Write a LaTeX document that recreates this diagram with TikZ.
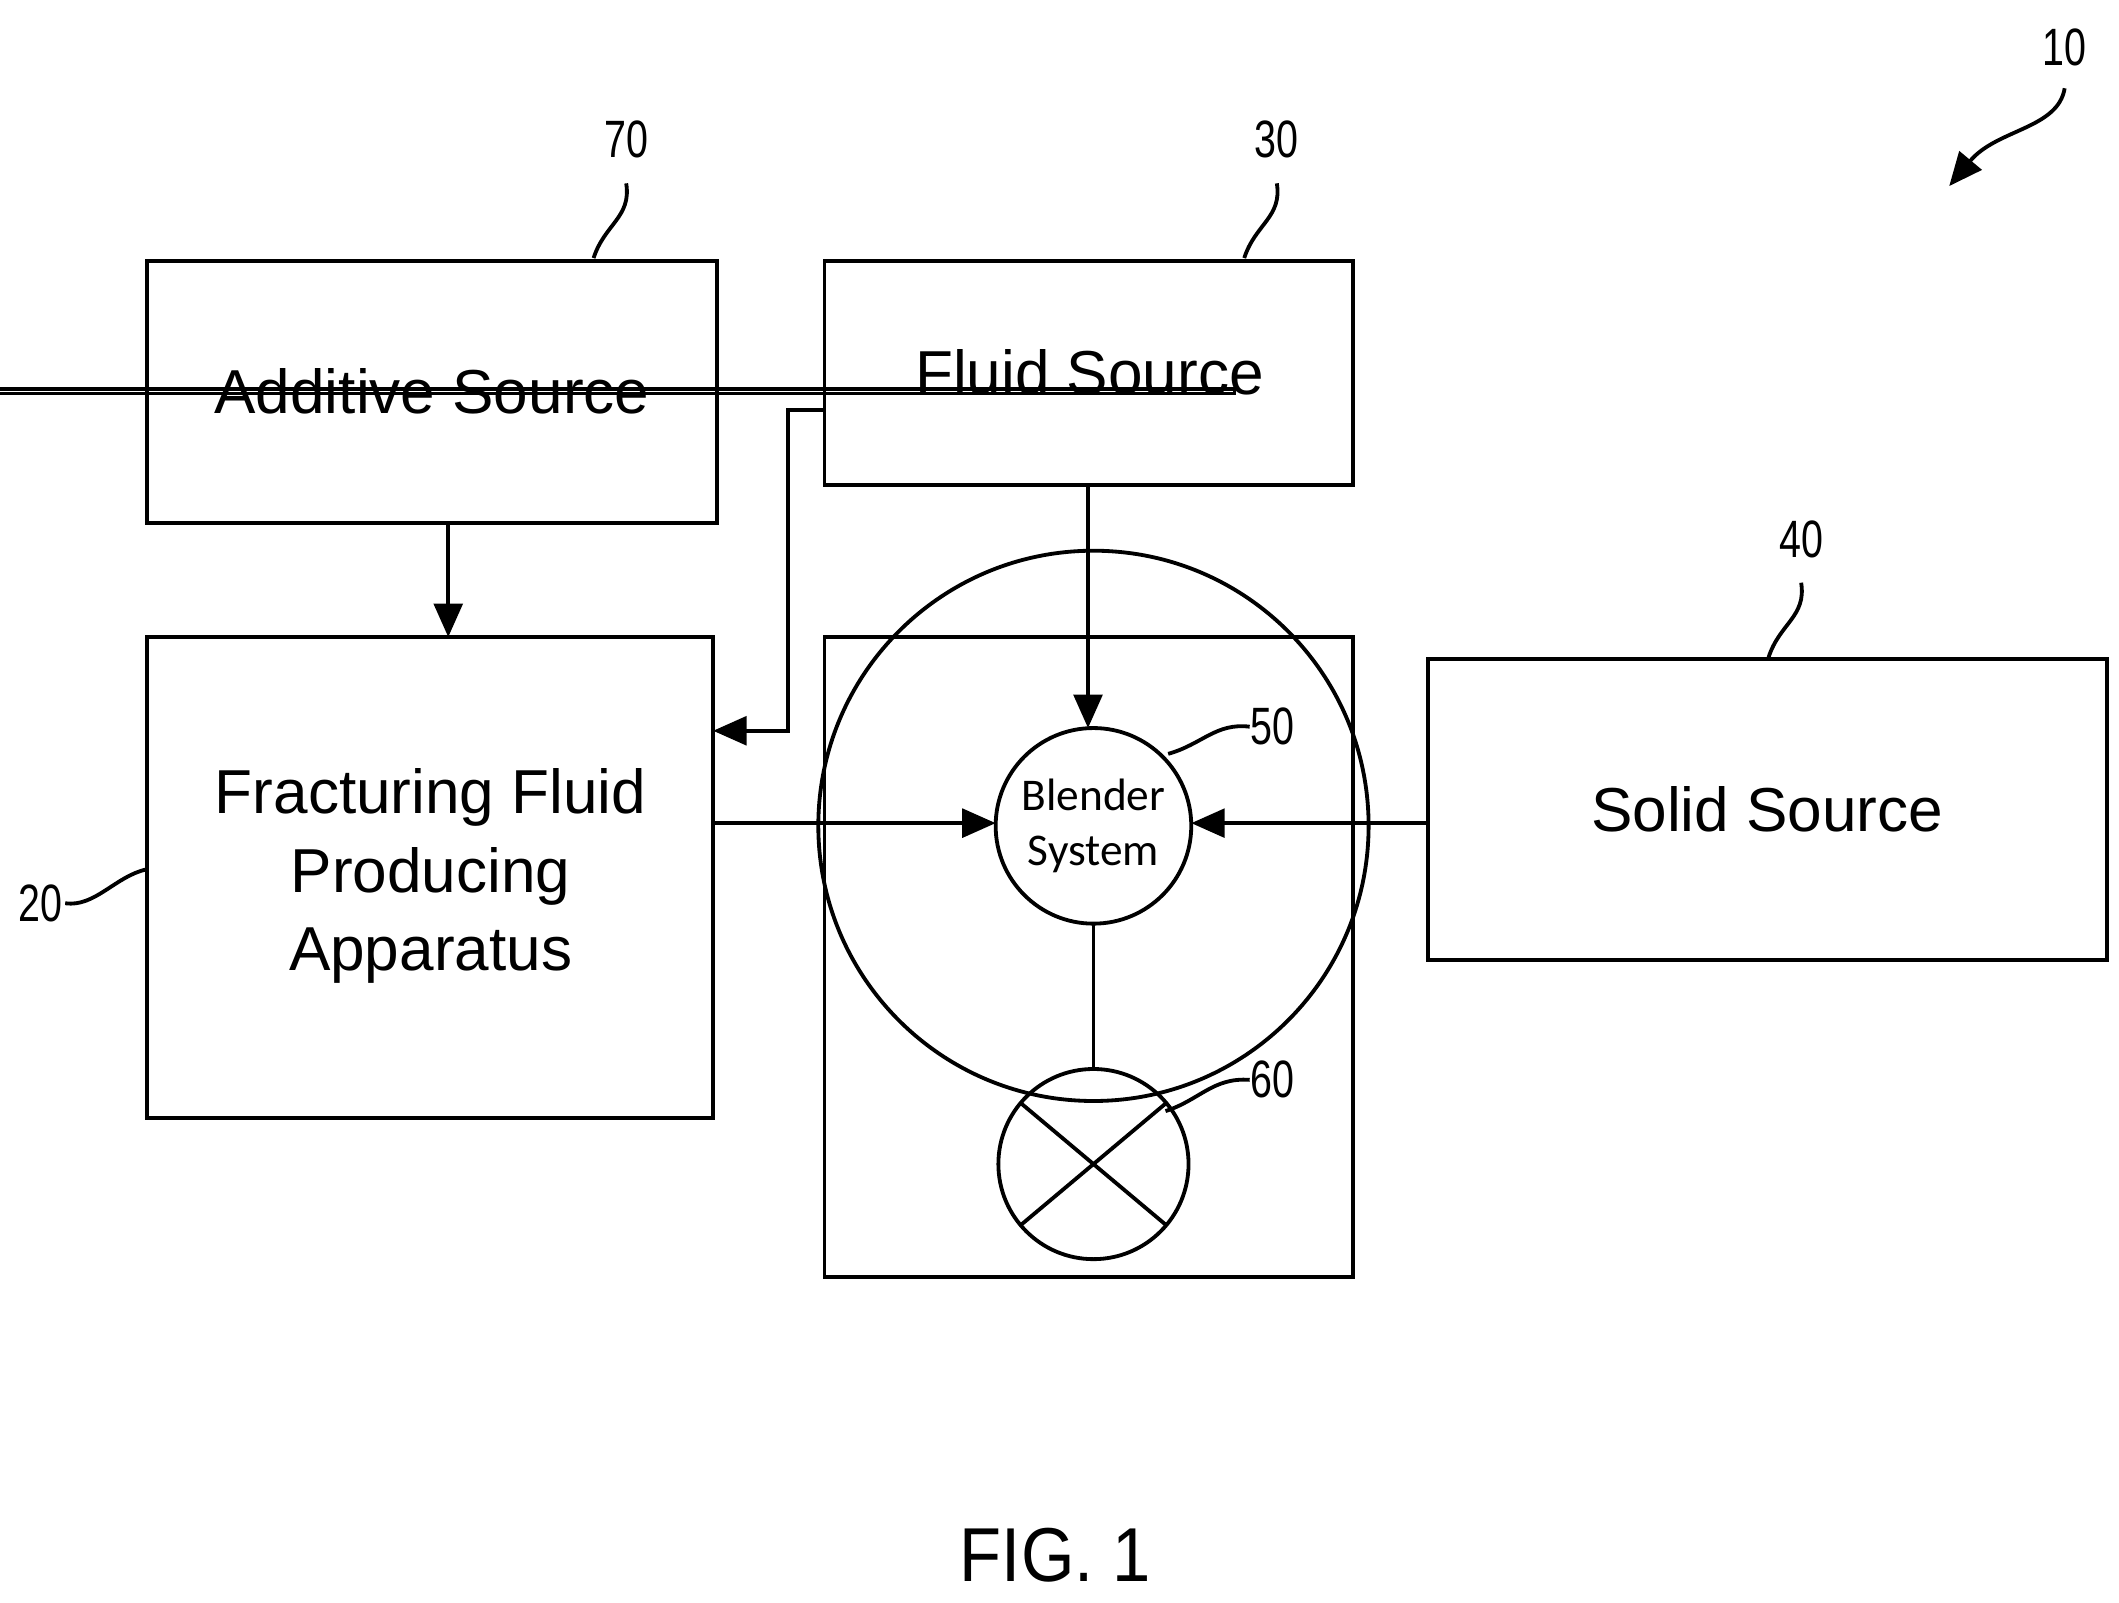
\documentclass[tikz,border=0pt]{standalone}
\usepackage{fontspec}
\setmainfont{Liberation Sans}
\newfontfamily\calfont{Carlito}
\usetikzlibrary{arrows.meta}
\begin{document}
\begin{tikzpicture}[x=0.01cm,y=-0.01cm,line width=0.8pt,
  box/.style={draw,inner sep=0pt},
  lbl/.style={font=\fontsize{13}{15}\selectfont,align=center},
  num/.style={font=\fontsize{11}{12}\selectfont,xscale=0.75},
  arr/.style={-{Triangle[length=7pt,width=6pt]}}]
\useasboundingbox (0,0) rectangle (1560,1180);
\node[box,minimum width=420\pgflinewidth] (add) at (318,288) {};
\draw (108,192) rectangle (528,385);
\node[lbl] (addt) at (318,288) {Additive Source};
\draw (607,192) rectangle (996,357);
\node[lbl] (fluidt) at (802,274) {Fluid Source};
\draw (108,469) rectangle (525,823);
\node[lbl,font=\fontsize{13}{16.5}\selectfont] (frac) at (317,645) {Fracturing Fluid\\Producing\\Apparatus};
\draw (607,469) rectangle (996,940);
\draw (1051,485) rectangle (1551,707);
\node[lbl] (solid) at (1301,596) {Solid Source};
\node[draw,circle,minimum size=144\pgflinewidth] (bl) at (805,608) {};
\draw (805,608) circle (72);
\node[font=\calfont\fontsize{9.5}{11.5}\selectfont,align=center] (blt) at (805,608) {Blender\\System};
\draw (805,857) circle (70);
\coordinate (c60) at (805,857);
\draw (c60) ++(40:70) -- ++(220:140);
\draw (c60) ++(140:70) -- ++(320:140);
% arrows
\coordinate (a1) at (330,385); \coordinate (a2) at (330,469);
\draw[arr] (a1) -- (a2);
\coordinate (f1) at (801,357); \coordinate (f2) at (801,536);
\draw[arr] (f1) -- (f2);
\coordinate (g1) at (607,302); \coordinate (g2) at (525,538);
\draw[arr] (g1) -- (580,302) -- (580,538) -- (g2);
\coordinate (h1) at (525,606); \coordinate (h2) at (733,606);
\draw[arr] (h1) -- (h2);
\coordinate (s1) at (1051,606); \coordinate (s2) at (877,606);
\draw[arr] (s1) -- (s2);
\coordinate (b1) at (805,680); \coordinate (b2) at (805,787);
\draw (b1) -- (b2);
% labels
\node[num] (n70) at (461,103) {70};
\draw (437,190) .. controls (445,165) and (465,160) .. (461,135);
\node[num] (n30) at (940,103) {30};
\draw (916,190) .. controls (924,165) and (944,160) .. (940,135);
\node[num] (n40) at (1326,397) {40};
\draw (1302,484) .. controls (1310,459) and (1330,454) .. (1326,429);
\node[num] (n50) at (937,535) {50};
\draw (860,555) .. controls (885,548) and (895,532) .. (920,535);
\node[num] (n60) at (937,795) {60};
\draw (858,818) .. controls (883,810) and (893,793) .. (920,795);
\node[num] (n20) at (30,665) {20};
\draw (48,665) .. controls (70,668) and (85,645) .. (108,640);
\node[num] (n10) at (1520,35) {10};
\draw[arr] (1520,65) .. controls (1515,95) and (1470,95) .. (1435,137);
\node[font=\fontsize{16}{18}\selectfont,xscale=0.9] (fig) at (777,1145) {FIG. 1};
\end{tikzpicture}
\end{document}
